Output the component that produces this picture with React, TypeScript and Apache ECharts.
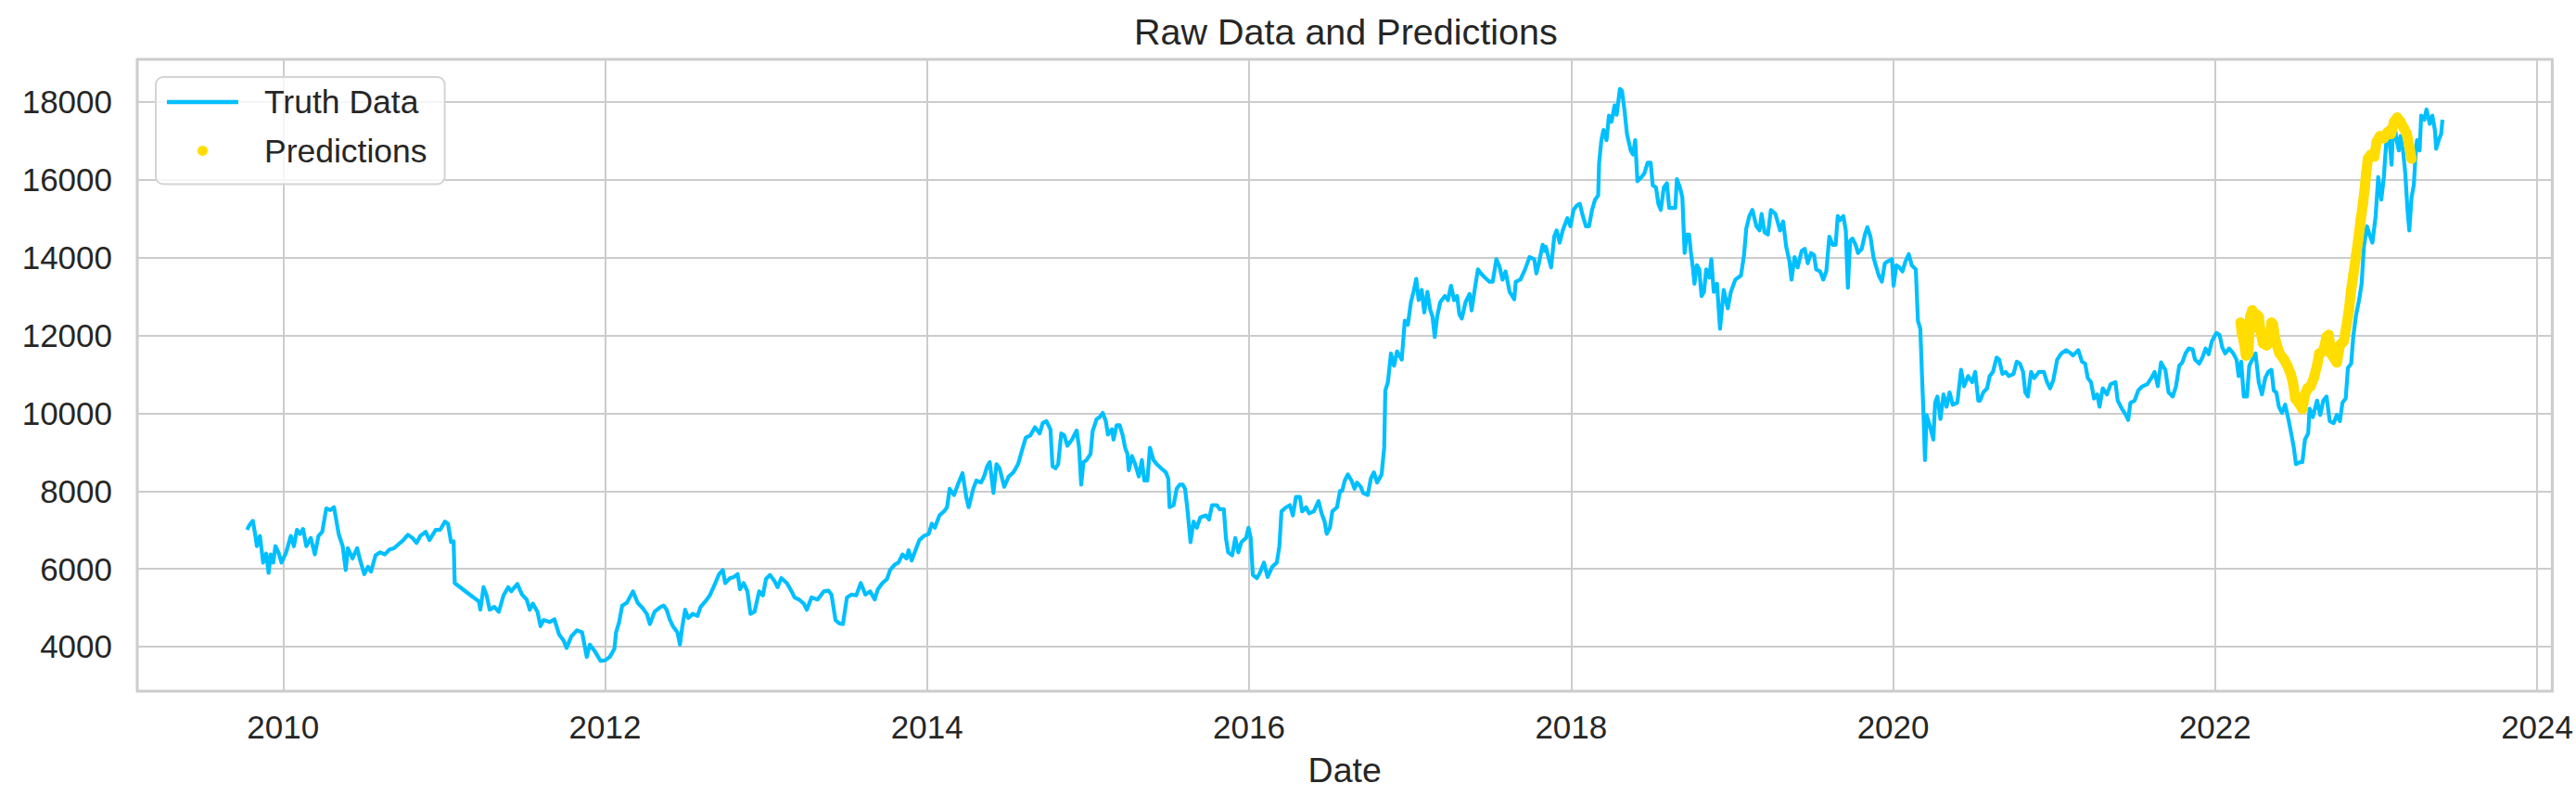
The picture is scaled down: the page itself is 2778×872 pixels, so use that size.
import React, { useEffect, useRef } from "react";
import * as echarts from "echarts";

const FONT = "'Liberation Sans', Arial, sans-serif";

const xTicks = [2010, 2012, 2014, 2016, 2018, 2020, 2022, 2024];
const yTicks = [4000, 6000, 8000, 10000, 12000, 14000, 16000, 18000];

// Dates as decimal years
const truthYears = [
  2009.776, 2009.789, 2009.812, 2009.828, 2009.837, 2009.856, 2009.876, 2009.895, 2009.91, 2009.923,
  2009.939, 2009.952, 2009.971, 2009.99, 2010.019, 2010.048, 2010.067, 2010.086, 2010.105, 2010.124,
  2010.144, 2010.172, 2010.197, 2010.22, 2010.243, 2010.268, 2010.293, 2010.316, 2010.345, 2010.37,
  2010.389, 2010.402, 2010.431, 2010.46, 2010.479, 2010.504, 2010.527, 2010.546, 2010.574, 2010.603,
  2010.632, 2010.661, 2010.689, 2010.718, 2010.747, 2010.775, 2010.804, 2010.829, 2010.852, 2010.886,
  2010.909, 2010.948, 2010.976, 2011.005, 2011.024, 2011.043, 2011.059, 2011.066, 2011.216, 2011.225,
  2011.245, 2011.264, 2011.283, 2011.312, 2011.34, 2011.369, 2011.398, 2011.417, 2011.455, 2011.484,
  2011.513, 2011.532, 2011.551, 2011.58, 2011.599, 2011.618, 2011.656, 2011.685, 2011.714, 2011.742,
  2011.761, 2011.79, 2011.825, 2011.857, 2011.886, 2011.905, 2011.934, 2011.972, 2012.001, 2012.029,
  2012.058, 2012.068, 2012.087, 2012.106, 2012.135, 2012.173, 2012.202, 2012.231, 2012.259, 2012.278,
  2012.307, 2012.345, 2012.365,
  2012.382, 2012.401, 2012.421, 2012.449, 2012.465, 2012.478, 2012.497, 2012.516, 2012.545, 2012.574,
  2012.593, 2012.622, 2012.65, 2012.679, 2012.708, 2012.731, 2012.746, 2012.775, 2012.8, 2012.823,
  2012.838, 2012.861, 2012.884, 2012.903, 2012.928, 2012.957, 2012.98, 2012.999, 2013.024, 2013.052,
  2013.071, 2013.094, 2013.129, 2013.158, 2013.177, 2013.205, 2013.234, 2013.253, 2013.282, 2013.32,
  2013.359, 2013.387, 2013.406, 2013.431, 2013.454, 2013.477, 2013.502, 2013.531, 2013.56, 2013.588,
  2013.617, 2013.646, 2013.675, 2013.694, 2013.722, 2013.751, 2013.77, 2013.799, 2013.822, 2013.847,
  2013.872, 2013.885, 2013.904, 2013.923, 2013.952, 2013.981, 2014.01, 2014.029, 2014.048, 2014.077,
  2014.105, 2014.124, 2014.14, 2014.167, 2014.191, 2014.22, 2014.243, 2014.258, 2014.287, 2014.306,
  2014.335, 2014.354, 2014.373, 2014.389, 2014.412, 2014.431, 2014.45, 2014.479, 2014.507, 2014.536,
  2014.565, 2014.594, 2014.613, 2014.641, 2014.67, 2014.699, 2014.718, 2014.741, 2014.766, 2014.779,
  2014.798, 2014.814, 2014.833, 2014.852, 2014.871, 2014.9, 2014.929, 2014.944, 2014.957, 2014.971,
  2014.99, 2015.015, 2015.028, 2015.053, 2015.072,
  2015.091, 2015.11, 2015.123, 2015.148, 2015.158, 2015.177, 2015.196, 2015.215, 2015.23, 2015.244,
  2015.253, 2015.272, 2015.292, 2015.315, 2015.334, 2015.349, 2015.368, 2015.384, 2015.406, 2015.426,
  2015.454, 2015.483, 2015.498, 2015.506, 2015.531, 2015.55, 2015.569, 2015.588, 2015.602, 2015.617,
  2015.636, 2015.655, 2015.675, 2015.697, 2015.732, 2015.751, 2015.77, 2015.799, 2015.818, 2015.843,
  2015.856, 2015.87, 2015.895, 2015.914, 2015.933, 2015.952, 2015.981, 2015.996, 2016.01, 2016.023,
  2016.048, 2016.067, 2016.092, 2016.115, 2016.144, 2016.172, 2016.188, 2016.201, 2016.23, 2016.253,
  2016.272, 2016.291, 2016.316, 2016.329, 2016.354, 2016.373, 2016.402, 2016.431, 2016.45, 2016.469,
  2016.482, 2016.502, 2016.517, 2016.546, 2016.565, 2016.578, 2016.594, 2016.613, 2016.636, 2016.655,
  2016.67, 2016.693, 2016.708, 2016.737, 2016.756, 2016.775, 2016.795, 2016.823, 2016.839, 2016.846,
  2016.862, 2016.881, 2016.9, 2016.919, 2016.948, 2016.967, 2016.986, 2017.005, 2017.024, 2017.038,
  2017.053, 2017.072, 2017.088, 2017.107, 2017.126, 2017.139, 2017.153, 2017.168, 2017.187, 2017.216,
  2017.235, 2017.254, 2017.273, 2017.292, 2017.306, 2017.321, 2017.344, 2017.369, 2017.382, 2017.401,
  2017.421, 2017.44, 2017.465, 2017.493, 2017.513, 2017.536, 2017.555, 2017.574, 2017.593, 2017.618,
  2017.647, 2017.656, 2017.685, 2017.714, 2017.742, 2017.771, 2017.784, 2017.8, 2017.823, 2017.834,
  2017.843, 2017.862, 2017.876, 2017.895, 2017.91, 2017.929, 2017.948, 2017.977, 2017.996, 2018.015,
  2018.034, 2018.054, 2018.073, 2018.092, 2018.111, 2018.13, 2018.149, 2018.168, 2018.174, 2018.188,
  2018.201, 2018.22, 2018.235, 2018.251, 2018.27, 2018.283, 2018.303, 2018.316, 2018.331, 2018.347,
  2018.37, 2018.385, 2018.398, 2018.412, 2018.437, 2018.456, 2018.475, 2018.494, 2018.507, 2018.527,
  2018.542, 2018.557, 2018.576, 2018.595, 2018.609, 2018.647, 2018.657, 2018.676, 2018.691, 2018.705,
  2018.718, 2018.733, 2018.743, 2018.756, 2018.766, 2018.781, 2018.796, 2018.81, 2018.825, 2018.839,
  2018.858, 2018.871, 2018.886, 2018.906, 2018.925, 2018.948, 2018.973, 2018.992, 2019.02, 2019.055,
  2019.074, 2019.088, 2019.107, 2019.126, 2019.151, 2019.17, 2019.183, 2019.202, 2019.222, 2019.241,
  2019.269, 2019.298, 2019.317, 2019.336, 2019.356, 2019.369, 2019.388, 2019.407, 2019.432, 2019.451,
  2019.47, 2019.49, 2019.509, 2019.522, 2019.547, 2019.566, 2019.585, 2019.604, 2019.624, 2019.643,
  2019.656, 2019.671, 2019.691, 2019.706, 2019.719, 2019.733, 2019.748, 2019.767, 2019.782, 2019.805,
  2019.825, 2019.84, 2019.859, 2019.878, 2019.892, 2019.911, 2019.93, 2019.949, 2019.968, 2019.993,
  2020.003, 2020.02, 2020.039, 2020.058, 2020.077, 2020.097, 2020.116, 2020.141, 2020.154, 2020.169,
  2020.179, 2020.188, 2020.198, 2020.208, 2020.227, 2020.25, 2020.261, 2020.275, 2020.294, 2020.313,
  2020.332, 2020.351, 2020.37, 2020.399, 2020.422, 2020.441, 2020.466, 2020.491, 2020.51, 2020.529,
  2020.54, 2020.56, 2020.584, 2020.6, 2020.62, 2020.643, 2020.659, 2020.679, 2020.699, 2020.718,
  2020.748, 2020.768, 2020.788, 2020.807, 2020.821, 2020.837, 2020.857, 2020.877, 2020.906, 2020.936,
  2020.956, 2020.975, 2020.995, 2021.019, 2021.045, 2021.074, 2021.098, 2021.118, 2021.15, 2021.173,
  2021.193, 2021.209, 2021.229, 2021.248, 2021.268, 2021.282, 2021.302, 2021.328, 2021.351, 2021.381,
  2021.395, 2021.421, 2021.446, 2021.46, 2021.474, 2021.5, 2021.523, 2021.549, 2021.579, 2021.604,
  2021.624, 2021.644, 2021.664, 2021.691, 2021.711, 2021.737, 2021.757, 2021.777, 2021.796, 2021.816,
  2021.836, 2021.86, 2021.875, 2021.901, 2021.921, 2021.941, 2021.96, 2021.98, 2022.008, 2022.028,
  2022.044, 2022.063, 2022.087, 2022.113, 2022.133, 2022.146, 2022.162, 2022.178, 2022.198, 2022.212,
  2022.231, 2022.251, 2022.271, 2022.291, 2022.311, 2022.33, 2022.35, 2022.364, 2022.38, 2022.396,
  2022.415, 2022.435, 2022.455, 2022.475, 2022.489, 2022.502, 2022.528, 2022.542, 2022.558, 2022.578,
  2022.587, 2022.607, 2022.633, 2022.653, 2022.672, 2022.692, 2022.712, 2022.736, 2022.756, 2022.775,
  2022.791, 2022.811, 2022.825, 2022.845, 2022.858, 2022.874, 2022.894, 2022.91, 2022.924, 2022.943,
  2022.963, 2022.977, 2022.997, 2023.013, 2023.032, 2023.048, 2023.062, 2023.076, 2023.096, 2023.108,
  2023.127, 2023.141, 2023.151, 2023.167, 2023.181, 2023.195, 2023.206, 2023.22, 2023.234, 2023.246,
  2023.254, 2023.27, 2023.28, 2023.299, 2023.313, 2023.333, 2023.349, 2023.365, 2023.373, 2023.392,
  2023.404, 2023.412,
];

const truthValues = [
  7003, 7110, 7235, 6846, 6582, 6846, 6160, 6392, 5897, 6371,
  6160, 6582, 6424, 6160, 6424, 6846, 6582, 7003, 6898, 7024,
  6582, 6793, 6371, 6846, 6951, 7552, 7510, 7584, 6898, 6582,
  5970, 6530, 6266, 6530, 6213, 5865, 6055, 5929, 6350, 6424,
  6371, 6498, 6530, 6635, 6740, 6877, 6793, 6667, 6846, 6951,
  6740, 7003, 7003, 7214, 7161, 6688, 6709, 5633, 5159, 4948,
  5528, 5317, 4948, 5022, 4895, 5317, 5528, 5422, 5612, 5338,
  5211, 4948, 5106, 4895, 4526, 4684, 4631, 4705, 4315, 4157,
  3967, 4262, 4420, 4368, 3735, 4052, 3894, 3630, 3651, 3735,
  3946, 4368, 4631, 5053, 5127, 5422, 5127, 5000, 4842, 4579,
  4895, 5022, 5053,
  4948, 4705, 4526, 4368, 4052, 4474, 4948, 4737, 4842, 4789,
  5022, 5159, 5317, 5580, 5865, 5970, 5633, 5760, 5791, 5865,
  5475, 5633, 5422, 4842, 4895, 5422, 5317, 5739, 5844, 5686,
  5528, 5760, 5633, 5422, 5264, 5211, 5106, 4948, 5264, 5211,
  5422, 5443, 5338, 4684, 4600, 4579, 5264, 5338, 5317, 5633,
  5338, 5422, 5211, 5475, 5633, 5739, 5970, 6107, 6160, 6371,
  6266, 6477, 6213, 6424, 6740, 6846, 6898, 7161, 7056, 7373,
  7478, 7584, 8058, 7900, 8164, 8459, 7847, 7584, 8058, 8269,
  8217, 8375, 8638, 8743, 7952, 8691, 8585, 8111, 8375, 8480,
  8691, 9112, 9376, 9429, 9639, 9481, 9745, 9797, 9587, 8638,
  8585, 8691, 9481, 9429, 9165, 9323, 9555, 9112, 8164, 8743,
  8796, 8954, 9534, 9850, 9903,
  10008, 9797, 9450, 9587, 9323, 9692, 9692, 9429, 9112, 8954,
  8533, 8902, 8691, 8375, 8796, 8269, 8269, 9112, 8796, 8691,
  8585, 8480, 8322, 7584, 7637, 8058, 8164, 8164, 8058, 7531,
  6687, 7214, 7056, 7320, 7373, 7267, 7637, 7637, 7531, 7531,
  6793, 6424, 6350, 6793, 6424, 6688, 6793, 7056, 6793, 5844,
  5760, 5897, 6160, 5791, 6055, 6160, 6582, 7478, 7584, 7637,
  7373, 7847, 7847, 7478, 7584, 7426, 7478, 7742, 7426, 7214,
  6898, 7056, 7478, 7584, 8006, 8006, 8269, 8427, 8269, 8058,
  8217, 8111, 7952, 7900, 8322, 8480, 8217, 8427, 9112, 10588,
  10799, 11537, 11221, 11590, 11379, 12380, 12275, 12855, 13171, 13456,
  12908, 13171, 12591, 13118, 12644, 12486, 11959, 12486, 12855, 13013,
  12908, 13277, 12908, 13013, 12539, 12433, 12855, 13066, 12644, 13171,
  13698, 13593, 13487, 13382, 13382, 13962, 13772, 13435, 13646, 13118,
  12929, 13382, 13435, 13698, 14015, 13962, 13593, 13857, 14331, 14173,
  14279, 13962, 13751, 14542, 14700, 14384, 14700, 15016, 14805, 15227,
  15333, 15385, 15069, 14805, 14805, 15227, 15491, 15596, 16440, 17020,
  17283, 17020, 17652, 17494, 17916, 17673, 18337, 18285, 17810, 17178,
  16756, 16651, 17020, 15965, 16070, 16176, 16440, 16440, 15860, 15807,
  15385, 15227, 15807, 15912, 15280, 15280, 16018, 15807, 15544, 14120,
  14595, 14595, 14173, 13751, 13330, 13804, 13698, 13013, 13118, 13698,
  13487, 13962, 13118, 13330, 12170, 13171, 12697, 13118, 13435, 13540,
  14067, 14753, 15069, 15227, 14805, 14700, 15122, 14647, 14595, 15227,
  15122, 14700, 14932, 14279, 13909, 13435, 14015, 13751, 14173, 14226,
  13857, 14120, 14067, 13698, 13646, 13435, 13646, 14542, 14331, 14331,
  15069, 14963, 15069, 14700, 13224, 14437, 14489, 14331, 14120, 14226,
  14595, 14784, 14542, 14015, 13804, 13540, 13382, 13857, 13909, 13962,
  13277, 13804, 13751, 13646, 13909, 14088, 13804, 13698, 12380, 12170,
  11010, 10061, 8796, 9956, 9692, 9323, 10272, 10430, 9850, 10483,
  10167, 10535, 10219, 10272, 11116, 10694, 10957, 10799, 11063, 10325,
  10325, 10535, 10641, 10957, 11063, 11432, 11379, 11010, 11063, 10957,
  11010, 11327, 11274, 11063, 10535, 10430, 11063, 10905, 11063, 11063,
  10799, 10641, 10852, 11379, 11537, 11622, 11558, 11485, 11622, 11327,
  11274, 10905, 10799, 10378, 10483, 10167, 10641, 10483, 10746, 10799,
  10325, 10114, 9956, 9829, 10272, 10325, 10588, 10694, 10746, 10905,
  11063, 10694, 11305, 11116, 10535, 10430, 10694, 11221, 11305, 11537,
  11664, 11643, 11379, 11274, 11432, 11664, 11516, 11854, 12064, 12012,
  11696, 11537, 11664, 11537, 11379, 10957, 11327, 10430, 10430, 11221,
  11379, 11537, 10799, 10483, 10905, 11063, 11116, 10588, 10535, 10167,
  10008, 10219, 9850, 9429, 9112, 8691, 8743, 8743, 9323, 9481,
  10114, 9903, 10325, 9956, 10325, 10430, 9797, 9745, 9956, 9797,
  10272, 10378, 11168, 11274, 11959, 12486, 12908, 13330, 14279, 14805,
  14542, 14384, 15069, 16070, 15491, 16070, 16914, 17336, 16387, 17599,
  17020, 16756, 17125, 16756, 16176, 15227, 14700, 15544, 15860, 16703,
  17020, 16756, 17652, 17547, 17810, 17441, 17652, 17283, 16798, 17062,
  17178, 17547,
];

const predYears = [
  2022.158, 2022.166, 2022.178, 2022.192, 2022.206, 2022.218, 2022.231, 2022.245, 2022.257, 2022.271,
  2022.281, 2022.297, 2022.32, 2022.34, 2022.35, 2022.36, 2022.37, 2022.384, 2022.4, 2022.429,
  2022.449, 2022.469, 2022.483, 2022.498, 2022.518, 2022.542, 2022.558, 2022.574, 2022.593, 2022.613,
  2022.633, 2022.647, 2022.672, 2022.692, 2022.706, 2022.72, 2022.736, 2022.756, 2022.775, 2022.799,
  2022.815, 2022.831, 2022.845, 2022.858, 2022.874, 2022.89, 2022.904, 2022.918, 2022.93, 2022.938,
  2022.949, 2022.969, 2022.989, 2023.003, 2023.023, 2023.048, 2023.072, 2023.092, 2023.112, 2023.131,
  2023.151, 2023.171, 2023.191, 2023.206, 2023.22,
];

const predValues = [
  12328, 12064, 11854, 11485, 11537, 12486, 12644, 12222, 12539, 12486,
  12117, 11801, 11748, 11959, 12328, 12275, 11959, 11748, 11537, 11379,
  11221, 11010, 10799, 10378, 10272, 10114, 10483, 10641, 10694, 10905,
  11221, 11537, 11590, 11959, 12012, 11537, 11432, 11305, 11748, 11854,
  12222, 12644, 13171, 13540, 14015, 14489, 14963, 15385, 15807, 16176,
  16545, 16651, 16598, 16967, 17125, 17072, 17230, 17178, 17494, 17599,
  17494, 17336, 17178, 16861, 16545,
];

const TEXT = "#262626";
const GRID = "#cccccc";

export default function App() {
  const ref = useRef<HTMLDivElement>(null);

  useEffect(() => {
    if (!ref.current) return;
    const chart = echarts.init(ref.current, null, { renderer: "svg" });
    const truthData = truthYears.map((y, i) => [y, truthValues[i]]);
    const predData = predYears.map((y, i) => [y, predValues[i]]);

    chart.setOption({
      animation: false,
      backgroundColor: "#ffffff",
      textStyle: { fontFamily: FONT },
      title: {
        text: "Raw Data and Predictions",
        left: 1223,
        top: 14,
        padding: 0,
        textStyle: { fontSize: 39.5, fontWeight: "normal", color: TEXT, fontFamily: FONT },
      },
      legend: {
        orient: "vertical",
        left: 168,
        top: 83,
        padding: [9, 19, 18, 12],
        itemGap: 16.5,
        itemWidth: 77,
        itemHeight: 11,
        backgroundColor: "rgba(255,255,255,0.8)",
        borderColor: "#d4d4d4",
        borderWidth: 2,
        borderRadius: 8,
        itemStyle: { borderWidth: 0 },
        textStyle: { fontSize: 35.5, color: TEXT, fontFamily: FONT, padding: [0, 0, 0, 23] },
        data: [
          { name: "Truth Data", icon: "path://M0,0 L77,0 L77,4.5 L0,4.5 Z" },
          { name: "Predictions", icon: "circle" },
        ],
      },
      grid: {
        left: 148,
        right: 19,
        top: 64,
        bottom: 127,
        show: true,
        borderColor: GRID,
        borderWidth: 3,
        backgroundColor: "transparent",
      },
      xAxis: {
        type: "value",
        min: 2009.094,
        max: 2024.094,
        name: "Date",
        nameLocation: "middle",
        nameGap: 66,
        nameTextStyle: { fontSize: 37.5, color: TEXT, fontFamily: FONT },
        axisLine: { show: false },
        axisTick: { show: false, customValues: xTicks },
        axisLabel: {
          customValues: xTicks,
          fontSize: 35,
          color: TEXT,
          margin: 21,
          fontFamily: FONT,
          formatter: (v: number) => String(Math.round(v)),
        },
        splitLine: { show: true, lineStyle: { color: GRID, width: 2 } },
      },
      yAxis: {
        type: "value",
        min: 2855,
        max: 19097,
        axisLine: { show: false },
        axisTick: { show: false, customValues: yTicks },
        axisLabel: {
          customValues: yTicks,
          fontSize: 35,
          color: TEXT,
          margin: 27,
          fontFamily: FONT,
          formatter: (v: number) => String(Math.round(v)),
        },
        splitLine: { show: true, lineStyle: { color: GRID, width: 2 } },
      },
      series: [
        {
          name: "Truth Data",
          type: "line",
          data: truthData,
          symbol: "none",
          color: "#00BFFF",
          lineStyle: { color: "#00BFFF", width: 4.2, join: "round" },
          itemStyle: { color: "#00BFFF" },
          z: 2,
        },
        {
          name: "Predictions",
          type: "line",
          data: predData,
          symbol: "circle",
          symbolSize: 11,
          showSymbol: true,
          showAllSymbol: true,
          color: "#FFDD00",
          lineStyle: { color: "#FFDD00", width: 11, cap: "round", join: "round" },
          itemStyle: { color: "#FFDD00", borderWidth: 0 },
          z: 3,
        },
      ],
    });
    return () => chart.dispose();
  }, []);

  return (
    <div
      ref={ref}
      style={{ position: "absolute", left: 0, top: 0, width: 2778, height: 872, background: "#ffffff" }}
    />
  );
}
